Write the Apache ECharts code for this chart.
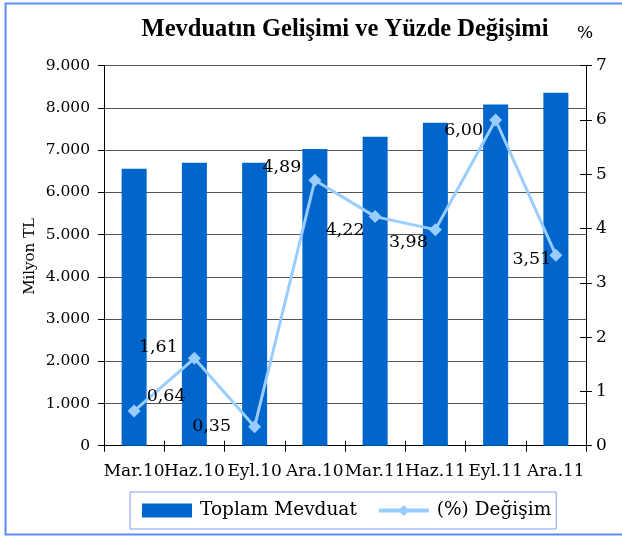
<!DOCTYPE html>
<html>
<head>
<meta charset="utf-8">
<script src="https://cdn.jsdelivr.net/npm/echarts@6/dist/echarts.min.js"></script>
<style>html,body{margin:0;padding:0;background:#fff}#c{width:622px;height:536px}</style>
</head>
<body>
<div id="c"></div>
<script>
const categories = ['Mar.10','Haz.10','Eyl.10','Ara.10','Mar.11','Haz.11','Eyl.11','Ara.11'];
const depositTotals = [6560, 6700, 6700, 7030, 7320, 7650, 8080, 8360];
const pctChange = [0.64, 1.61, 0.35, 4.89, 4.22, 3.98, 6.00, 3.51];
const leftTicks = { min: 0, max: 9000, interval: 1000 };
const rightTicks = { min: 0, max: 7, interval: 1 };
const titleText = 'Mevduatın Gelişimi ve Yüzde Değişimi';
const leftAxisName = 'Milyon TL';
const rightAxisName = '%';
const seriesNames = ['Toplam Mevduat', '(%) Değişim'];

const SERIF = 'DejaVu Serif';
const labelOffsets = [[32,-15],[-36,-11],[-43,0],[-33,-13],[-30,14],[-27,13],[-32,10],[-24,4]];

const chart = echarts.init(document.getElementById('c'), null, {renderer: 'canvas'});
const grid = {left: 104, right: 36, top: 65.7, bottom: 90.3};

const option = {
  animation: false,
  backgroundColor: '#ffffff',
  title: {
    text: titleText,
    left: 340, top: 12, textAlign: 'center',
    textStyle: {fontFamily: 'Liberation Serif', fontWeight: 'bold', fontSize: 24.5, color: '#000'}
  },
  graphic: [
    {type: 'rect', silent: true, z: -10,
     shape: {x: 5.5, y: 3.5, width: 700, height: 531},
     style: {fill: 'none', stroke: '#5B8CFF', lineWidth: 2}},
    {type: 'text', left: 23, top: 218, rotation: Math.PI/2,
     style: {text: leftAxisName, font: '15px "DejaVu Serif"', fill: '#000'}},
    {type: 'text', left: 577, top: 25,
     style: {text: rightAxisName, font: '17px "DejaVu Serif"', fill: '#000'}}
  ],
  grid: grid,
  legend: {
    left: 130, top: 492,
    itemWidth: 50, itemHeight: 14, itemGap: 20,
    padding: [9, 5, 9, 12],
    borderColor: '#7FA0FF', borderWidth: 1, backgroundColor: '#fff',
    lineStyle: {width: 4},
    textStyle: {fontFamily: SERIF, fontSize: 18.5, color: '#000', padding: [0,0,0,3]},
    data: [
      {name: seriesNames[0], icon: 'rect'},
      {name: seriesNames[1]}
    ]
  },
  xAxis: [
    {type: 'category', data: categories, position: 'bottom',
     axisLine: {show: true, lineStyle: {color: '#000', width: 1}},
     axisTick: {show: true, length: 6, lineStyle: {color: '#000'}},
     axisLabel: {fontFamily: SERIF, fontSize: 17, color: '#000', margin: 17, interval: 0},
     splitLine: {show: false}},
    {type: 'category', data: categories, position: 'bottom', offset: 0,
     axisLine: {show: false},
     axisTick: {show: true, inside: true, length: 5, lineStyle: {color: '#000'}},
     axisLabel: {show: false}, splitLine: {show: false}}
  ],
  yAxis: [
    {type: 'value', position: 'left', min: leftTicks.min, max: leftTicks.max, interval: leftTicks.interval,
     axisLine: {show: true, lineStyle: {color: '#000'}},
     axisTick: {show: true, length: 6, lineStyle: {color: '#000'}},
     axisLabel: {fontFamily: SERIF, fontSize: 15.5, color: '#000', margin: 14,
       formatter: v => String(v).replace(/\B(?=(\d{3})+(?!\d))/g, '.')},
     splitLine: {show: true, lineStyle: {color: '#555', width: 1}}},
    {type: 'value', position: 'right', min: rightTicks.min, max: rightTicks.max, interval: rightTicks.interval,
     axisLine: {show: true, lineStyle: {color: '#000'}},
     axisTick: {show: true, length: 6, lineStyle: {color: '#000'}},
     axisLabel: {fontFamily: SERIF, fontSize: 17, color: '#000', margin: 10},
     splitLine: {show: false}},
    {type: 'value', position: 'right', min: rightTicks.min, max: rightTicks.max, interval: rightTicks.interval,
     axisLine: {show: false},
     axisTick: {show: true, inside: true, length: 6, lineStyle: {color: '#000'}},
     axisLabel: {show: false}, splitLine: {show: false}}
  ],
  series: [
    {name: seriesNames[0], type: 'bar', xAxisIndex: 0, yAxisIndex: 0,
     data: depositTotals, barWidth: 25,
     itemStyle: {color: '#0066CC'}, z: 2},
    {name: seriesNames[1], type: 'line', xAxisIndex: 0, yAxisIndex: 1,
     data: pctChange.map((v, i) => ({
       value: v,
       label: {offset: labelOffsets[i]}
     })),
     symbol: 'diamond', symbolSize: 13, showAllSymbol: true,
     lineStyle: {color: '#99CCFF', width: 3},
     itemStyle: {color: '#99CCFF'},
     label: {show: true, position: 'inside', align: 'center', verticalAlign: 'middle',
       fontFamily: SERIF, fontSize: 17.5, color: '#000',
       formatter: p => p.value.toFixed(2).replace('.', ',')},
     z: 5}
  ]
};
chart.setOption(option);
</script>
</body>
</html>
